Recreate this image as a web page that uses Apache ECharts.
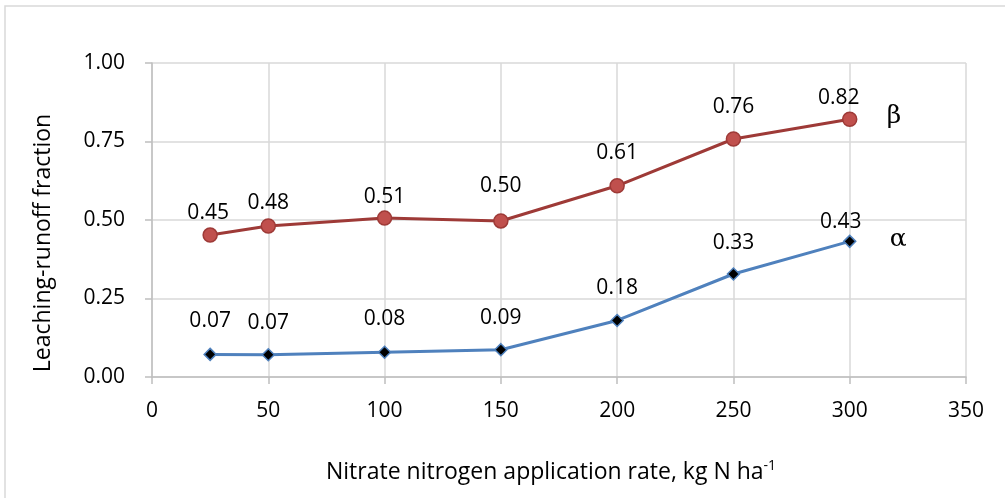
<!DOCTYPE html>
<html>
<head>
<meta charset="utf-8">
<script src="https://cdn.jsdelivr.net/npm/echarts@6/dist/echarts.min.js"></script>
<style>html,body{margin:0;padding:0;background:#fff}#c{width:1005px;height:498px}</style>
</head>
<body>
<div id="c"></div>
<script>
const rates = [25, 50, 100, 150, 200, 250, 300];
const alphaValues = [0.072, 0.071, 0.079, 0.087, 0.18, 0.328, 0.432];
const betaValues = [0.452, 0.481, 0.506, 0.497, 0.609, 0.758, 0.821];
const xTicks = [0, 50, 100, 150, 200, 250, 300, 350];
const yTicks = [0, 0.25, 0.5, 0.75, 1.0];
const seriesNames = ['α', 'β'];

// label placements (style)
const alphaLabelOffsets = [[0,-33],[0,-32],[0,-33],[0,-32],[0,-32],[0,-31],[-9,-19]];
const betaLabelOffsets = [[-2,-22],[0,-23],[0,-21],[0,-35],[0,-33],[0,-32],[-11,-21]];

const FONT = 'Open Sans';
const NUM_SIZE = 21;
const TITLE_SIZE = 23;
const chart = echarts.init(document.getElementById('c'), null, {renderer: 'canvas'});

function makeData(vals, offs) {
  return rates.map((x, i) => ({
    value: [x, vals[i]],
    label: {offset: offs[i]}
  }));
}

const commonLabel = {
  show: true,
  position: 'inside',
  color: '#000',
  fontFamily: FONT,
  fontSize: NUM_SIZE,
  formatter: p => p.value[1].toFixed(2)
};

chart.setOption({
  animation: false,
  backgroundColor: '#fff',
  graphic: [{
    type: 'rect',
    shape: {x: 5, y: 6, width: 1010, height: 500},
    style: {fill: 'none', stroke: '#d9d9d9', lineWidth: 1.5},
    silent: true
  }],
  grid: {left: 152, right: 39, top: 63, bottom: 121},
  xAxis: {
    type: 'value',
    min: xTicks[0], max: xTicks[xTicks.length - 1], interval: 50,
    name: 'Nitrate nitrogen application rate, kg N ha{sup|-1}',
    nameLocation: 'middle',
    nameGap: 82,
    nameTextStyle: {
      fontFamily: FONT, fontSize: TITLE_SIZE, color: '#000',
      padding: [0, 16, 0, 0],
      rich: {sup: {fontFamily: FONT, fontSize: 14, color: '#000', verticalAlign: 'top', padding: [0,0,12,0]}}
    },
    axisLine: {show: true, lineStyle: {color: '#bfbfbf', width: 1.5}},
    axisTick: {show: true, inside: false, length: 7, lineStyle: {color: '#bfbfbf', width: 1.5}},
    axisLabel: {fontFamily: FONT, fontSize: NUM_SIZE, color: '#000', margin: 24},
    splitLine: {show: true, lineStyle: {color: '#d9d9d9', width: 1.5}}
  },
  yAxis: {
    type: 'value',
    min: yTicks[0], max: yTicks[yTicks.length - 1], interval: 0.25,
    name: 'Leaching-runoff fraction',
    nameLocation: 'middle',
    nameGap: 97,
    nameTextStyle: {fontFamily: FONT, fontSize: TITLE_SIZE, color: '#000', padding: [0, 46, 0, 0]},
    axisLine: {show: true, lineStyle: {color: '#bfbfbf', width: 1.5}},
    axisTick: {show: true, inside: false, length: 7, lineStyle: {color: '#bfbfbf', width: 1.5}},
    axisLabel: {fontFamily: FONT, fontSize: NUM_SIZE, color: '#000', margin: 27, formatter: v => v.toFixed(2)},
    splitLine: {show: true, lineStyle: {color: '#d9d9d9', width: 1.5}}
  },
  series: [
    {
      name: seriesNames[0],
      type: 'line',
      data: makeData(alphaValues, alphaLabelOffsets),
      symbol: 'diamond',
      symbolSize: 12,
      lineStyle: {color: '#4f81bd', width: 3},
      itemStyle: {color: '#000', borderColor: '#4f81bd', borderWidth: 1.5},
      label: commonLabel,
      endLabel: {show: true, formatter: '{a}', distance: 40, fontFamily: 'DejaVu Serif', fontSize: 25, color: '#000', offset: [0, -2]},
      z: 3
    },
    {
      name: seriesNames[1],
      type: 'line',
      data: makeData(betaValues, betaLabelOffsets),
      symbol: 'circle',
      symbolSize: 14,
      lineStyle: {color: '#9e3a37', width: 3},
      itemStyle: {color: '#c0504d', borderColor: '#9e3a37', borderWidth: 1.5},
      label: commonLabel,
      endLabel: {show: true, formatter: '{a}', distance: 37, fontFamily: 'DejaVu Serif', fontSize: 25, color: '#000', offset: [0, -3]},
      z: 3
    }
  ]
});
</script>
</body>
</html>
